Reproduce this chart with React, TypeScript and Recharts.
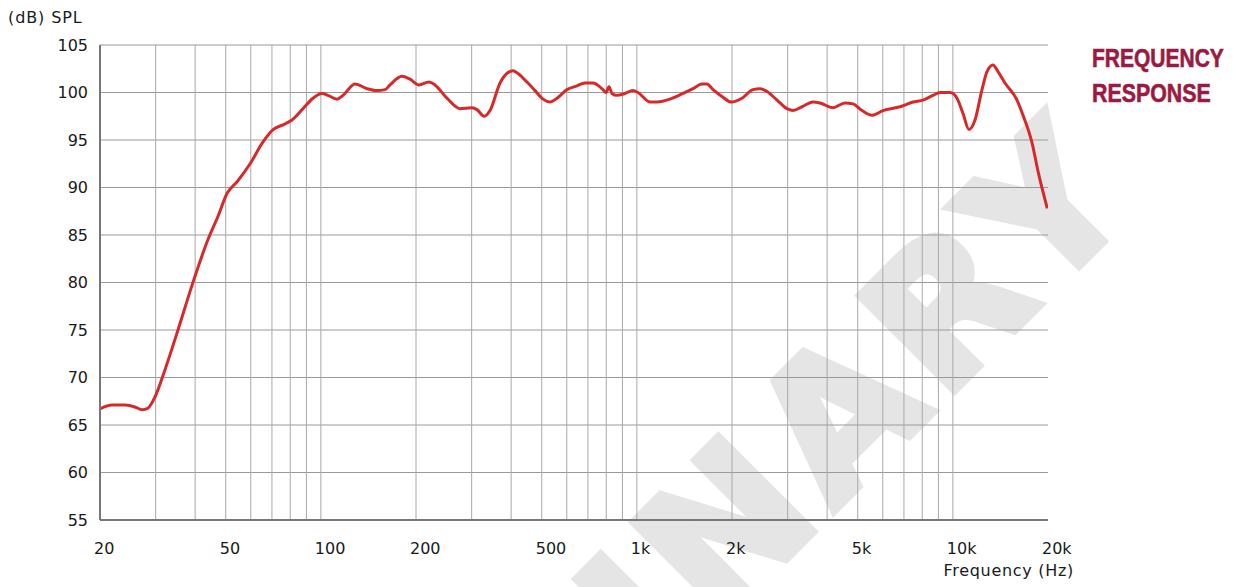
import React from 'react';
import { LineChart, Line, XAxis, YAxis, CartesianGrid, ReferenceLine } from 'recharts';

const freqs = [
  20, 21.8, 24, 25.8, 27.2, 28.4, 29.9, 32.1, 35.3, 39.1, 43.9, 47.3, 50.5, 54.3, 59.7, 65.6, 70.6, 75.9, 81, 87.8,
  94.4, 100.8, 105.3, 112.5, 117.5, 128.2, 140, 150.5, 159.6, 165.5, 180.6, 191.4, 204.4, 219.8, 229.6, 250.6, 275.7,
  300.8, 312, 328.4, 343, 368.9, 391, 405.5, 420.4, 449, 476.2, 504.6, 531, 558.8, 601, 646.4, 685, 726, 781, 798.6,
  816, 834, 865, 917, 972, 1008, 1101, 1158, 1273, 1400, 1505, 1607, 1667, 1742, 1873, 1985, 2151, 2330, 2452, 2582,
  2776, 2986, 3120, 3332, 3609, 3798, 4174, 4556, 4830, 5158, 5546, 6010, 6802, 7479, 8044, 8652, 9105, 9794, 10305,
  10765, 11246, 11749, 12364, 12823, 13394, 13892, 14620, 15958, 16672, 17804, 18600, 19900,
];

const spl = [
  66.7, 67.1, 67.1, 66.9, 66.6, 66.8, 68.0, 70.8, 75.0, 79.7, 84.5, 87.0, 89.4, 90.6, 92.5, 94.8, 96.1, 96.6, 97.1, 98.3,
  99.4, 99.9, 99.7, 99.3, 99.7, 100.9, 100.4, 100.2, 100.3, 100.8, 101.7, 101.4, 100.8, 101.1, 100.8, 99.4, 98.3,
  98.4, 98.2, 97.5, 98.1, 101.0, 102.1, 102.3, 102.0, 101.1, 100.2, 99.3, 99.0, 99.4, 100.3, 100.7, 101.0, 101.0, 100.3, 100.0,
  100.6, 99.9, 99.7, 99.9, 100.2, 100.0, 99.0, 99.0, 99.3, 99.9, 100.4, 100.9, 100.9, 100.3, 99.5, 99.0, 99.4, 100.3, 100.4, 100.1,
  99.2, 98.3, 98.1, 98.5, 99.0, 98.9, 98.4, 98.9, 98.8, 98.1, 97.6, 98.1, 98.5, 99.0, 99.2, 99.7, 100.0, 100.0, 99.4,
  97.8, 96.1, 97.1, 100.3, 102.2, 102.9, 102.2, 101.0, 99.2, 97.6, 94.7, 91.7, 87.8,
];

const xTickValues = [20, 50, 100, 200, 500, 1000, 2000, 5000, 10000, 20000];
const xTickLabels = ['20', '50', '100', '200', '500', '1k', '2k', '5k', '10k', '20k'];
const xGridValues = [
  30, 40, 50, 60, 70, 80, 90, 100, 200, 300, 400, 500, 600, 700, 800, 900, 1000,
  2000, 3000, 4000, 5000, 6000, 7000, 8000, 9000, 10000,
];
const xMinorTicks = [25, 35, 45, 150, 250, 350, 450, 1500, 2500, 3500, 4500, 15000];
const yTickValues = [55, 60, 65, 70, 75, 80, 85, 90, 95, 100, 105];

const data = freqs.map((f, i) => ({ f, spl: spl[i] }));

const FONT = "'DejaVu Sans', Verdana, sans-serif";
const TITLE_FONT = "'Liberation Sans', Arial, sans-serif";

const XTick = (props: any) => {
  const { x, y, payload } = props;
  const idx = xTickValues.indexOf(payload.value);
  const label = idx >= 0 ? xTickLabels[idx] : String(payload.value);
  return (
    <text x={x - 6} y={y} dy="0.71em" textAnchor="start" fontFamily={FONT} fontSize={16} fill="#1a1a1a">
      {label}
    </text>
  );
};

export default function App() {
  return (
    <div style={{ position: 'absolute', left: 0, top: 0, width: 1234, height: 587, background: '#fff', overflow: 'hidden' }}>
      <svg width={1234} height={587} style={{ position: 'absolute', left: 0, top: 0 }}>
        <text
          x={1147}
          y={198}
          transform="rotate(-45 1147 198)"
          textAnchor="end"
          fontFamily="'DejaVu Sans', sans-serif"
          fontWeight="bold"
          fontSize={184}
          letterSpacing={12}
          fill="#e5e5e5"
          stroke="#e5e5e5"
          strokeWidth={8}
          strokeLinejoin="miter"
        >
          PRELIMINARY
        </text>
        <text x={8} y={23} fontFamily={FONT} fontSize={16} letterSpacing={0.9} fill="#1a1a1a">(dB) SPL</text>
        <text x={1074} y={576} textAnchor="end" fontFamily={FONT} fontSize={16} letterSpacing={0.7} fill="#1a1a1a">Frequency (Hz)</text>
        <g transform="translate(1092 67) scale(0.84 1)">
          <text
            x={0}
            y={0}
            fontFamily={TITLE_FONT}
            fontWeight="bold"
            fontSize={25}
            fill="#991b41"
            stroke="#991b41"
            strokeWidth={0.6}
          >
            FREQUENCY
          </text>
        </g>
        <g transform="translate(1092 102) scale(0.855 1)">
          <text
            x={0}
            y={0}
            fontFamily={TITLE_FONT}
            fontWeight="bold"
            fontSize={25}
            fill="#991b41"
            stroke="#991b41"
            strokeWidth={0.6}
          >
            RESPONSE
          </text>
        </g>
      </svg>
      <div style={{ position: 'absolute', left: 0, top: 0 }}>
        <LineChart width={1234} height={587} data={data} margin={{ top: 45, right: 186, bottom: 27, left: 40 }}>
          <CartesianGrid vertical={false} stroke="#9a9a9a" strokeWidth={1} />
          {xGridValues.map((v) => (
            <ReferenceLine key={v} x={v} stroke="#a8a8a8" strokeWidth={1} ifOverflow="extendDomain" />
          ))}
          <XAxis
            dataKey="f"
            type="number"
            scale="log"
            domain={[20, 20000]}
            ticks={xTickValues}
            allowDataOverflow
            height={40}
            tickSize={0}
            tickMargin={23}
            tickLine={false}
            axisLine={{ stroke: '#777', strokeWidth: 2 }}
            tick={<XTick />}
          />
          <XAxis
            xAxisId="minorBottom"
            dataKey="f"
            type="number"
            scale="log"
            domain={[20, 20000]}
            ticks={xMinorTicks}
            allowDataOverflow
            height={0}
            mirror
            tick={false}
            tickSize={4}
            tickLine={{ stroke: '#888' }}
            axisLine={false}
          />
          <XAxis
            xAxisId="top"
            orientation="top"
            dataKey="f"
            type="number"
            scale="log"
            domain={[20, 20000]}
            ticks={xMinorTicks}
            allowDataOverflow
            height={0}
            mirror
            tick={false}
            tickSize={4}
            tickLine={{ stroke: '#888' }}
            axisLine={{ stroke: '#777', strokeWidth: 2 }}
          />
          <YAxis
            type="number"
            domain={[55, 105]}
            ticks={yTickValues}
            width={60}
            tickSize={0}
            tickMargin={12}
            tickLine={false}
            axisLine={{ stroke: '#777', strokeWidth: 2 }}
            tick={{ fontFamily: FONT, fontSize: 16, fill: '#1a1a1a' }}
            interval={0}
          />
          <YAxis
            yAxisId="right"
            orientation="right"
            type="number"
            domain={[55, 105]}
            width={0}
            tick={false}
            tickLine={false}
            axisLine={{ stroke: '#777', strokeWidth: 2 }}
          />
          <Line
            type="monotone"
            dataKey="spl"
            stroke="#d62a2a"
            strokeWidth={3}
            dot={false}
            isAnimationActive={false}
          />
        </LineChart>
      </div>
    </div>
  );
}
